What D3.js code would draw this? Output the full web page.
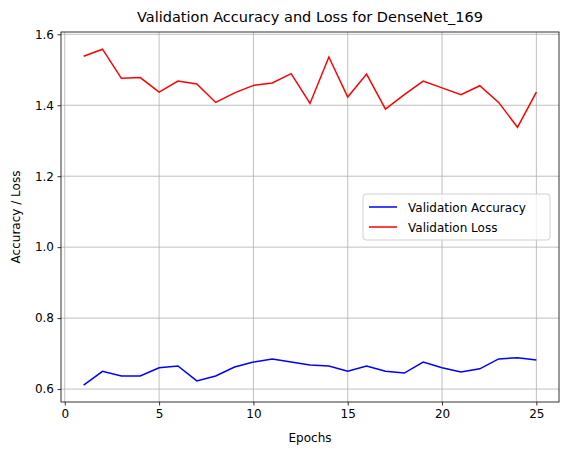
<!DOCTYPE html>
<html>
<head>
<meta charset="utf-8">
<script src="https://cdn.jsdelivr.net/npm/d3@7"></script>
<style>
  body { margin: 0; background: #fff; }
  text { font-family: "DejaVu Sans", sans-serif; }
</style>
</head>
<body>
<div class="viz"></div>
<script>
// values
const epochs = d3.range(1, 26);
const accuracy = [0.611, 0.650, 0.637, 0.637, 0.660, 0.665, 0.623, 0.637, 0.662, 0.676, 0.685, 0.676, 0.668, 0.665, 0.650, 0.665, 0.650, 0.645, 0.676, 0.660, 0.648, 0.657, 0.685, 0.688, 0.682];
const loss = [1.538, 1.558, 1.476, 1.478, 1.437, 1.468, 1.460, 1.408, 1.435, 1.456, 1.463, 1.489, 1.405, 1.536, 1.423, 1.488, 1.389, 1.430, 1.468, 1.449, 1.430, 1.455, 1.408, 1.338, 1.437];
const xTicks = [0, 5, 10, 15, 20, 25];
const yTicks = [0.6, 0.8, 1.0, 1.2, 1.4, 1.6];

const W = 567, H = 455;
const margin = { top: 32, right: 8, bottom: 53, left: 61 };
const width = W - margin.left - margin.right;
const height = H - margin.top - margin.bottom;

const svg = d3.select('.viz').append('svg').attr('width', W).attr('height', H);
const g = svg.append('g').attr('transform', `translate(${margin.left} ${margin.top})`);

const xScale = d3.scaleLinear().domain([-0.2, 26.2]).range([0, width]);
const yScale = d3.scaleLinear().domain([0.5635, 1.6065]).range([height, 0]);

// grid lines
g.selectAll('line.gx').data(xTicks).enter().append('line')
  .attr('x1', d => xScale(d)).attr('x2', d => xScale(d))
  .attr('y1', 0).attr('y2', height)
  .attr('stroke', '#b0b0b0').attr('stroke-width', 0.8);
g.selectAll('line.gy').data(yTicks).enter().append('line')
  .attr('y1', d => yScale(d)).attr('y2', d => yScale(d))
  .attr('x1', 0).attr('x2', width)
  .attr('stroke', '#b0b0b0').attr('stroke-width', 0.8);

const xAxis = g.append('g').attr('transform', `translate(0 ${height})`)
  .call(d3.axisBottom(xScale).tickValues(xTicks).tickSize(3.5).tickPadding(3.5).tickFormat(d3.format('d')));
const yAxis = g.append('g')
  .call(d3.axisLeft(yScale).tickValues(yTicks).tickSize(3.5).tickPadding(3.5).tickFormat(d3.format('.1f')));
[xAxis, yAxis].forEach(a => {
  a.select('.domain').remove();
  a.selectAll('text').attr('font-size', 12).attr('fill', '#000').style('font-family', '"DejaVu Sans", sans-serif');
  a.selectAll('line').attr('stroke', '#000').attr('stroke-width', 0.8);
});

// frame
g.append('rect').attr('width', width).attr('height', height)
  .attr('fill', 'none').attr('stroke', '#000').attr('stroke-width', 0.8);

const line = d3.line().x((d, i) => xScale(epochs[i])).y(d => yScale(d));
g.append('path').attr('d', line(accuracy)).attr('fill', 'none').attr('stroke', '#0000ff').attr('stroke-width', 1.5);
g.append('path').attr('d', line(loss)).attr('fill', 'none').attr('stroke', '#ff0000').attr('stroke-width', 1.5);

// labels
svg.append('text').attr('x', margin.left + width / 2).attr('y', 22)
  .attr('text-anchor', 'middle').attr('font-size', 14.5).text('Validation Accuracy and Loss for DenseNet_169');
svg.append('text').attr('x', margin.left + width / 2).attr('y', 442)
  .attr('text-anchor', 'middle').attr('font-size', 12).text('Epochs');
svg.append('text').attr('transform', `translate(20 ${margin.top + height / 2}) rotate(-90)`)
  .attr('text-anchor', 'middle').attr('font-size', 12).text('Accuracy / Loss');

// legend
const legend = svg.append('g').attr('transform', 'translate(363 194)');
legend.append('rect').attr('width', 187).attr('height', 46).attr('rx', 3)
  .attr('fill', '#fff').attr('fill-opacity', 0.8).attr('stroke', '#d0d0d0');
[['Validation Accuracy', '#0000ff'], ['Validation Loss', '#ff0000']].forEach(([label, color], i) => {
  const y = 13 + i * 20;
  legend.append('line').attr('x1', 6).attr('x2', 34).attr('y1', y).attr('y2', y)
    .attr('stroke', color).attr('stroke-width', 1.5);
  legend.append('text').attr('x', 45).attr('y', y + 4.5).attr('font-size', 12).text(label);
});
</script>
</body>
</html>
